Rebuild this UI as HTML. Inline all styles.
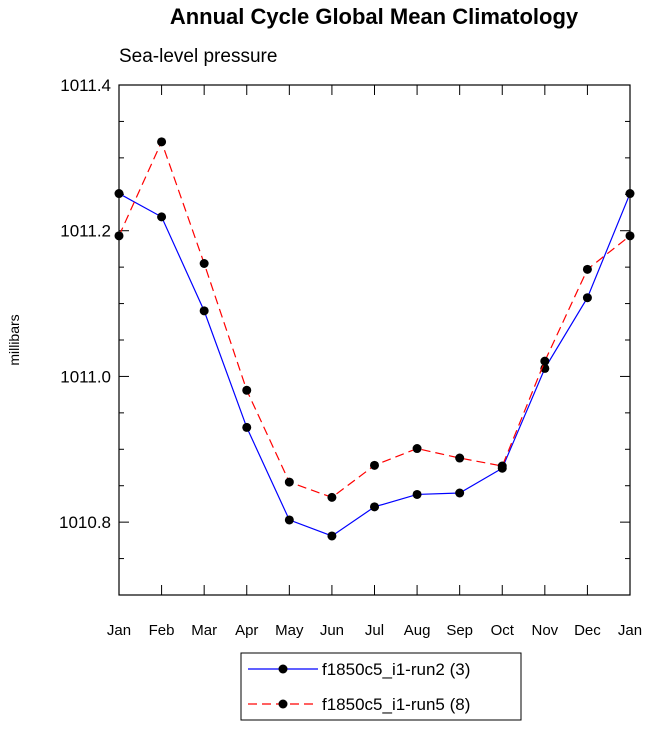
<!DOCTYPE html>
<html><head><meta charset="utf-8"><style>
body{margin:0;background:#fff;}
svg text{font-family:"Liberation Sans",sans-serif;}
</style></head><body>
<svg id="chart" width="648" height="728">
<text x="374" y="24" text-anchor="middle" font-size="22" font-weight="bold">Annual Cycle Global Mean Climatology</text>
<text x="119" y="62" font-size="19">Sea-level pressure</text>
<text transform="translate(19,340) rotate(-90)" text-anchor="middle" font-size="14">millibars</text>
<rect x="119" y="85" width="511" height="510" fill="none" stroke="#000" stroke-width="1.2"/>
<g id="axes"></g>
<g id="series"></g>
<g>
<rect x="241" y="653" width="280" height="67" fill="none" stroke="#000" stroke-width="1"/>
<line x1="248" y1="669" x2="318" y2="669" stroke="#0000ff" stroke-width="1.2"/>
<circle cx="283" cy="669" r="4.5" fill="#000"/>
<text x="322" y="675" font-size="17">f1850c5_i1-run2 (3)</text>
<line x1="248" y1="704" x2="318" y2="704" stroke="#ff0000" stroke-width="1.2" stroke-dasharray="9,5"/>
<circle cx="283" cy="704" r="4.5" fill="#000"/>
<text x="322" y="710" font-size="17">f1850c5_i1-run5 (8)</text>
</g>
</svg>
<script>
const months=["Jan","Feb","Mar","Apr","May","Jun","Jul","Aug","Sep","Oct","Nov","Dec","Jan"];
const run2=[1011.251,1011.219,1011.090,1010.930,1010.803,1010.781,1010.821,1010.838,1010.840,1010.874,1011.011,1011.108,1011.251];
const run5=[1011.193,1011.322,1011.155,1010.981,1010.855,1010.834,1010.878,1010.901,1010.888,1010.877,1011.021,1011.147,1011.193];
const yTicks=[1010.8,1011.0,1011.2,1011.4];
const yTickLabels=["1010.8","1011.0","1011.2","1011.4"];
const X0=119,X1=630,Y0=595,Y1=85,YMIN=1010.7,YMAX=1011.4;
const xs=i=>X0+(X1-X0)*i/(months.length-1);
const ys=v=>Y0-(v-YMIN)/(YMAX-YMIN)*(Y0-Y1);
const NS="http://www.w3.org/2000/svg";
function mk(t,a,p){const e=document.createElementNS(NS,t);for(const k in a)e.setAttribute(k,a[k]);p.appendChild(e);return e;}
const ax=document.getElementById('axes');
months.forEach((m,i)=>{const x=xs(i);
 const t1=mk('line',{x1:x,x2:x,y1:Y0,y2:Y0-10,stroke:'#000'},ax);
 
 
 mk('line',{x1:x,x2:x,y1:Y1,y2:Y1+10,stroke:'#000'},ax);
 const l=mk('text',{x:x,y:Y0+40,'text-anchor':'middle','font-size':15},ax);l.textContent=m;
 
 
});
for(let v=YMIN;v<=YMAX+1e-9;v+=0.05){const y=ys(v);const major=yTicks.some(t=>Math.abs(t-v)<1e-6);const L=major?10:5;
 mk('line',{x1:X0,x2:X0+L,y1:y,y2:y,stroke:'#000'},ax);
 mk('line',{x1:X1,x2:X1-L,y1:y,y2:y,stroke:'#000'},ax);}
yTicks.forEach((v,i)=>{const t=mk('text',{x:X0-8,y:ys(v)+6,'text-anchor':'end','font-size':17},ax);t.textContent=yTickLabels[i];
 
 });
const sg=document.getElementById('series');
function draw(d,col,dash,name){
 const p=mk('polyline',{points:d.map((v,i)=>xs(i)+','+ys(v)).join(' '),fill:'none',stroke:col,'stroke-width':1.2,'stroke-dasharray':dash},sg);
 
 
 d.forEach((v,i)=>{const c=mk('circle',{cx:xs(i),cy:ys(v),r:4.5,fill:'#000'},sg);
  
  });
}
draw(run2,'#0000ff','none','run2');
draw(run5,'#ff0000','9,5','run5');
</script>
</body></html>
